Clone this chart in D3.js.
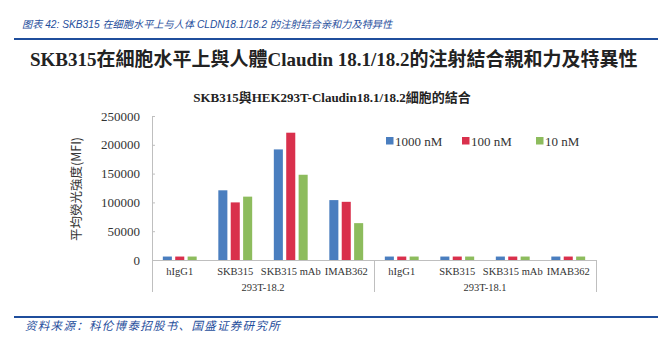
<!DOCTYPE html>
<html>
<head>
<meta charset="utf-8">
<script src="https://cdn.jsdelivr.net/npm/d3@7"></script>
<style>
  body { margin: 0; background: #fff; }
  #root { width: 671px; height: 353px; }
</style>
</head>
<body>
<div id="root"></div>
<script>
// data
var categories = ['hIgG1', 'SKB315', 'SKB315 mAb', 'IMAB362', 'hIgG1', 'SKB315', 'SKB315 mAb', 'IMAB362']
var groups = ['293T-18.2', '293T-18.1']
var seriesNames = ['1000 nM', '100 nM', '10 nM']
var values1000 = [6000, 121000, 192000, 104000, 6000, 6000, 6000, 6000]
var values100 = [6000, 100000, 221000, 101000, 6000, 6000, 6000, 6000]
var values10 = [6000, 110000, 148000, 64000, 6000, 6000, 6000, 6000]
var yTicks = [0, 50000, 100000, 150000, 200000, 250000]
var colors = ['#4a7ebf', '#d9304c', '#8dbc5d']

window.onload = function () {
    var width = 671
    var height = 353
    var svg = d3.select('#root').append('svg')
        .attr('width', width)
        .attr('height', height)
        .style('background-color', '#fff')

    var serif = '"Liberation Serif", "Times New Roman", serif'
    var blue = '#1f4e9c'

    // 页眉
    svg.append('text')
        .attr('x', 22).attr('y', 28)
        .attr('font-family', '"Liberation Sans", "Noto Sans CJK SC", sans-serif')
        .attr('font-style', 'italic')
        .attr('font-size', 10.2)
        .attr('fill', blue)
        .text('图表 42:  SKB315 在细胞水平上与人体 CLDN18.1/18.2 的注射结合亲和力及特异性')
    svg.append('line')
        .attr('x1', 14).attr('x2', 658).attr('y1', 39).attr('y2', 39)
        .attr('stroke', blue).attr('stroke-width', 2)

    svg.append('text')
        .attr('x', 30).attr('y', 66)
        .attr('font-family', serif + ', "Noto Sans CJK TC"')
        .attr('font-weight', 'bold')
        .attr('font-size', 19)
        .attr('fill', '#222')
        .text('SKB315在細胞水平上與人體Claudin 18.1/18.2的注射結合親和力及特異性')

    svg.append('text')
        .attr('x', 332).attr('y', 102)
        .attr('text-anchor', 'middle')
        .attr('font-family', serif + ', "Noto Sans CJK TC"')
        .attr('font-weight', 'bold')
        .attr('font-size', 13)
        .attr('fill', '#222')
        .text('SKB315與HEK293T-Claudin18.1/18.2細胞的結合')

    // 比例尺
    var left = 152, right = 596, top = 116, bottom = 260
    var Y = d3.scaleLinear().domain([0, 250000]).range([bottom, top])
    var X0 = d3.scaleBand().domain(d3.range(categories.length)).range([left, right])
    var X1 = d3.scaleBand().domain(seriesNames).range([0, 37.2])
        .paddingInner(0.27).paddingOuter(0.135)

    var axisColor = '#bfbfbf'
    var yAxisG = svg.append('g')
        .attr('transform', 'translate(' + left + ',0)')
        .call(d3.axisLeft(Y).tickValues(yTicks).tickSize(-3).tickPadding(12).tickFormat(d3.format('d')))
    yAxisG.select('.domain').attr('stroke', axisColor)
    yAxisG.selectAll('.tick line').attr('stroke', axisColor)
    yAxisG.selectAll('.tick text')
        .attr('font-family', serif).attr('font-size', 13).attr('fill', '#333')

    svg.append('text')
        .attr('transform', 'translate(81,' + ((top + bottom) / 2 + 1) + ') rotate(-90)')
        .attr('text-anchor', 'middle')
        .attr('font-family', '"Noto Sans CJK TC", "Liberation Sans", sans-serif')
        .attr('font-size', 12.5)
        .attr('fill', '#333')
        .text('平均熒光強度(MFI)')

    // 柱子
    var series = [values1000, values100, values10]
    var barG = svg.append('g')
    series.forEach(function (vals, s) {
        barG.selectAll('rect.s' + s)
            .data(vals)
            .enter()
            .append('rect')
            .attr('class', 's' + s)
            .attr('x', function (d, i) { return X0(i) + X0.bandwidth() / 2 - 18.6 + X1(seriesNames[s]) })
            .attr('width', X1.bandwidth())
            .attr('y', function (d) { return Y(d) })
            .attr('height', function (d) { return Y(0) - Y(d) })
            .attr('fill', colors[s])
    })

    // 分组的x轴
    var xg = svg.append('g')
    xg.append('line')
        .attr('x1', left).attr('x2', right).attr('y1', bottom + 0.5).attr('y2', bottom + 0.5)
        .attr('stroke', axisColor)
    var per = categories.length / groups.length
    var divs = d3.range(groups.length + 1).map(function (g) { return g === groups.length ? right : X0(g * per) })
    xg.selectAll('line.div')
        .data(divs)
        .enter()
        .append('line')
        .attr('class', 'div')
        .attr('x1', function (d) { return Math.round(d) + 0.5 })
        .attr('x2', function (d) { return Math.round(d) + 0.5 })
        .attr('y1', bottom).attr('y2', 292)
        .attr('stroke', axisColor)
    xg.selectAll('text.cat')
        .data(categories)
        .enter()
        .append('text')
        .attr('class', 'cat')
        .attr('x', function (d, i) { return X0(i) + X0.bandwidth() / 2 })
        .attr('y', 275)
        .attr('text-anchor', 'middle')
        .attr('font-family', serif).attr('font-size', 10.5).attr('fill', '#333')
        .text(function (d) { return d })
    xg.selectAll('text.grp')
        .data(groups)
        .enter()
        .append('text')
        .attr('class', 'grp')
        .attr('x', function (d, i) { return (divs[i] + divs[i + 1]) / 2 })
        .attr('y', 291)
        .attr('text-anchor', 'middle')
        .attr('font-family', serif).attr('font-size', 10.5).attr('fill', '#333')
        .text(function (d) { return d })

    // 图例
    var legendX = [386, 462, 536]
    var legend = svg.selectAll('g.legend')
        .data(seriesNames)
        .enter()
        .append('g')
        .attr('class', 'legend')
        .attr('transform', function (d, i) { return 'translate(' + legendX[i] + ',137)' })
    legend.append('rect')
        .attr('width', 7.5).attr('height', 7.5)
        .attr('fill', function (d, i) { return colors[i] })
    legend.append('text')
        .attr('x', 9).attr('y', 8.5)
        .attr('font-family', serif).attr('font-size', 13).attr('fill', '#333')
        .text(function (d) { return d })

    // 页脚
    svg.append('line')
        .attr('x1', 14).attr('x2', 658).attr('y1', 317).attr('y2', 317)
        .attr('stroke', blue).attr('stroke-width', 2)
    svg.append('text')
        .attr('x', 25).attr('y', 330)
        .attr('font-family', '"Noto Sans CJK SC", sans-serif')
        .attr('font-style', 'italic')
        .attr('font-size', 11.5)
        .attr('letter-spacing', 1.3)
        .attr('fill', blue)
        .text('资料来源：科伦博泰招股书、国盛证券研究所')
}
</script>
</body>
</html>
